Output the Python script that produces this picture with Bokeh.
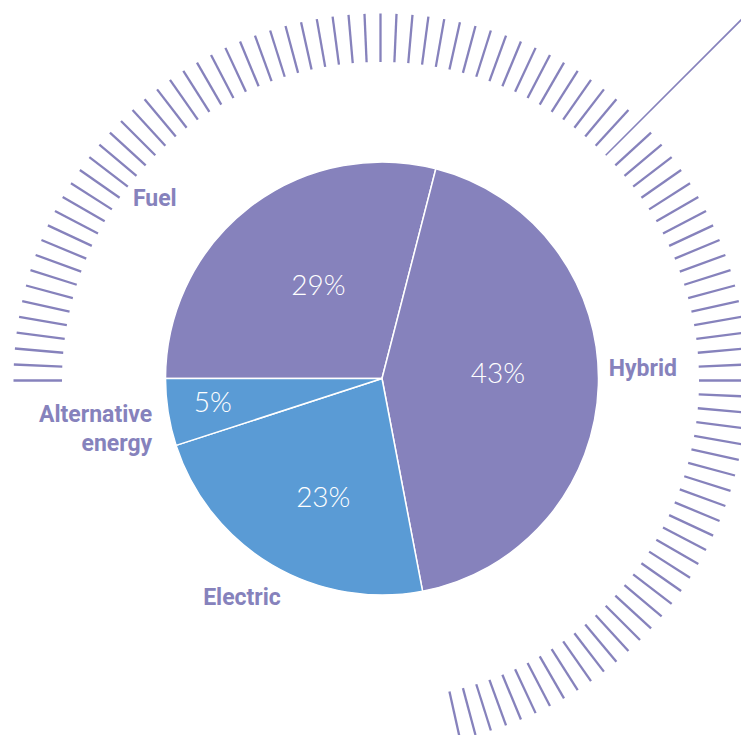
import math
from bokeh.plotting import figure
from bokeh.models import Range1d, ColumnDataSource
from bokeh.core.properties import value
from bokeh.embed import file_html
from bokeh.resources import INLINE

# ---------------- data ----------------
categories = ["Fuel", "Hybrid", "Electric", "Alternative energy"]
shares = [29, 43, 23, 5]
share_labels = ["29%", "43%", "23%", "5%"]

# ---------------- style / layout ----------------
W, H = 741, 735
PURPLE = "#8682bc"
BLUE = "#5a9bd5"
slice_colors = [PURPLE, PURPLE, BLUE, BLUE]

PIE_CX, PIE_CY, PIE_R = 381.5, 378.0, 216.5      # screen px
RING_CX, RING_CY = 380.0, 380.0
RING_R0, RING_R1 = 318.5, 367.0
START_CW = 270.0          # degrees clockwise from 12 o'clock
TICK_STEP = 2.5
TICK_COUNT = 104
LONG_TICK_CW = 45.0

# percent label placement (radius, angle shift) per slice
pct_radius = [112, 116, 133, 171]
pct_shift = [3.2, -3.8, -4.4, 0.6]
PCT_LIFT = 2.0

# category label anchors (screen x, middle y, align)
cat_layout = [
    (154.3, 197.5, "center"),
    (608.3, 367.7, "left"),
    (151.7, 414.2, "right"),
    (241.5, 596.5, "center"),
]
cat_lines = [["Fuel"], ["Hybrid"], ["Alternative", "energy"], ["Electric"]]
LINE_GAP = 29.0


def sy(y):
    return H - y


def polar(cx, cy, r, theta_cw):
    t = math.radians(theta_cw)
    return cx + r * math.sin(t), sy(cy - r * math.cos(t))


def math_rad(theta_cw):
    return math.radians(90.0 - theta_cw)


p = figure(width=W, height=H, x_range=Range1d(0, W), y_range=Range1d(0, H),
           output_backend="svg", toolbar_location=None, min_border=0,
           x_axis_location=None, y_axis_location=None)
p.grid.visible = False
p.outline_line_color = None
p.background_fill_color = "white"
p.border_fill_color = "white"

# ---------- ticks ring ----------
x0s, y0s, x1s, y1s = [], [], [], []
for k in range(TICK_COUNT):
    th = (START_CW + k * TICK_STEP) % 360
    if abs(th - LONG_TICK_CW) < 1e-6:
        continue
    a = polar(RING_CX, RING_CY, RING_R0, th)
    b = polar(RING_CX, RING_CY, RING_R1, th)
    x0s.append(a[0]); y0s.append(a[1]); x1s.append(b[0]); y1s.append(b[1])
p.segment(x0=x0s, y0=y0s, x1=x1s, y1=y1s, line_color=PURPLE, line_width=2.3)

a = polar(RING_CX, RING_CY, RING_R0, LONG_TICK_CW)
b = polar(RING_CX, RING_CY, 900, LONG_TICK_CW)
p.segment(x0=[a[0]], y0=[a[1]], x1=[b[0]], y1=[b[1]], line_color=PURPLE, line_width=1.6)

# ---------- pie ----------
total = float(sum(shares))
starts, ends, mids = [], [], []
acc = START_CW
for s in shares:
    span = 360.0 * s / total
    starts.append(acc)
    ends.append(acc + span)
    mids.append(acc + span / 2)
    acc += span

src = ColumnDataSource(dict(
    x=[PIE_CX] * len(shares), y=[sy(PIE_CY)] * len(shares),
    start=[math_rad(e) for e in ends], end=[math_rad(s) for s in starts],
    color=slice_colors, cat=categories))
p.wedge(x="x", y="y", radius=PIE_R, radius_units="data", start_angle="start",
        end_angle="end", direction="anticlock", fill_color="color",
        line_color="white", line_width=1.5, source=src)

# ---------- percent labels ----------
px, py = [], []
for m, r, sh in zip(mids, pct_radius, pct_shift):
    q = polar(PIE_CX, PIE_CY, r, m + sh)
    px.append(q[0]); py.append(q[1] + PCT_LIFT)
p.text(x=px, y=py, text=share_labels, text_color="white",
       text_font=value("Lato Light"), text_font_size="28px",
       text_align="center", text_baseline="middle")

# ---------- category labels ----------
tx, ty, tt, ta = [], [], [], []
for (x, ym, al), lines in zip(cat_layout, cat_lines):
    for i, ln in enumerate(lines):
        tx.append(x); ty.append(sy(ym + i * LINE_GAP)); tt.append(ln); ta.append(al)
p.text(x=tx, y=ty, text=tt, text_align=ta, text_color=PURPLE,
       text_font=value("Roboto"), text_font_style="bold", text_font_size="23px",
       text_baseline="middle")

open("out.html", "w").write(file_html(p, INLINE))
